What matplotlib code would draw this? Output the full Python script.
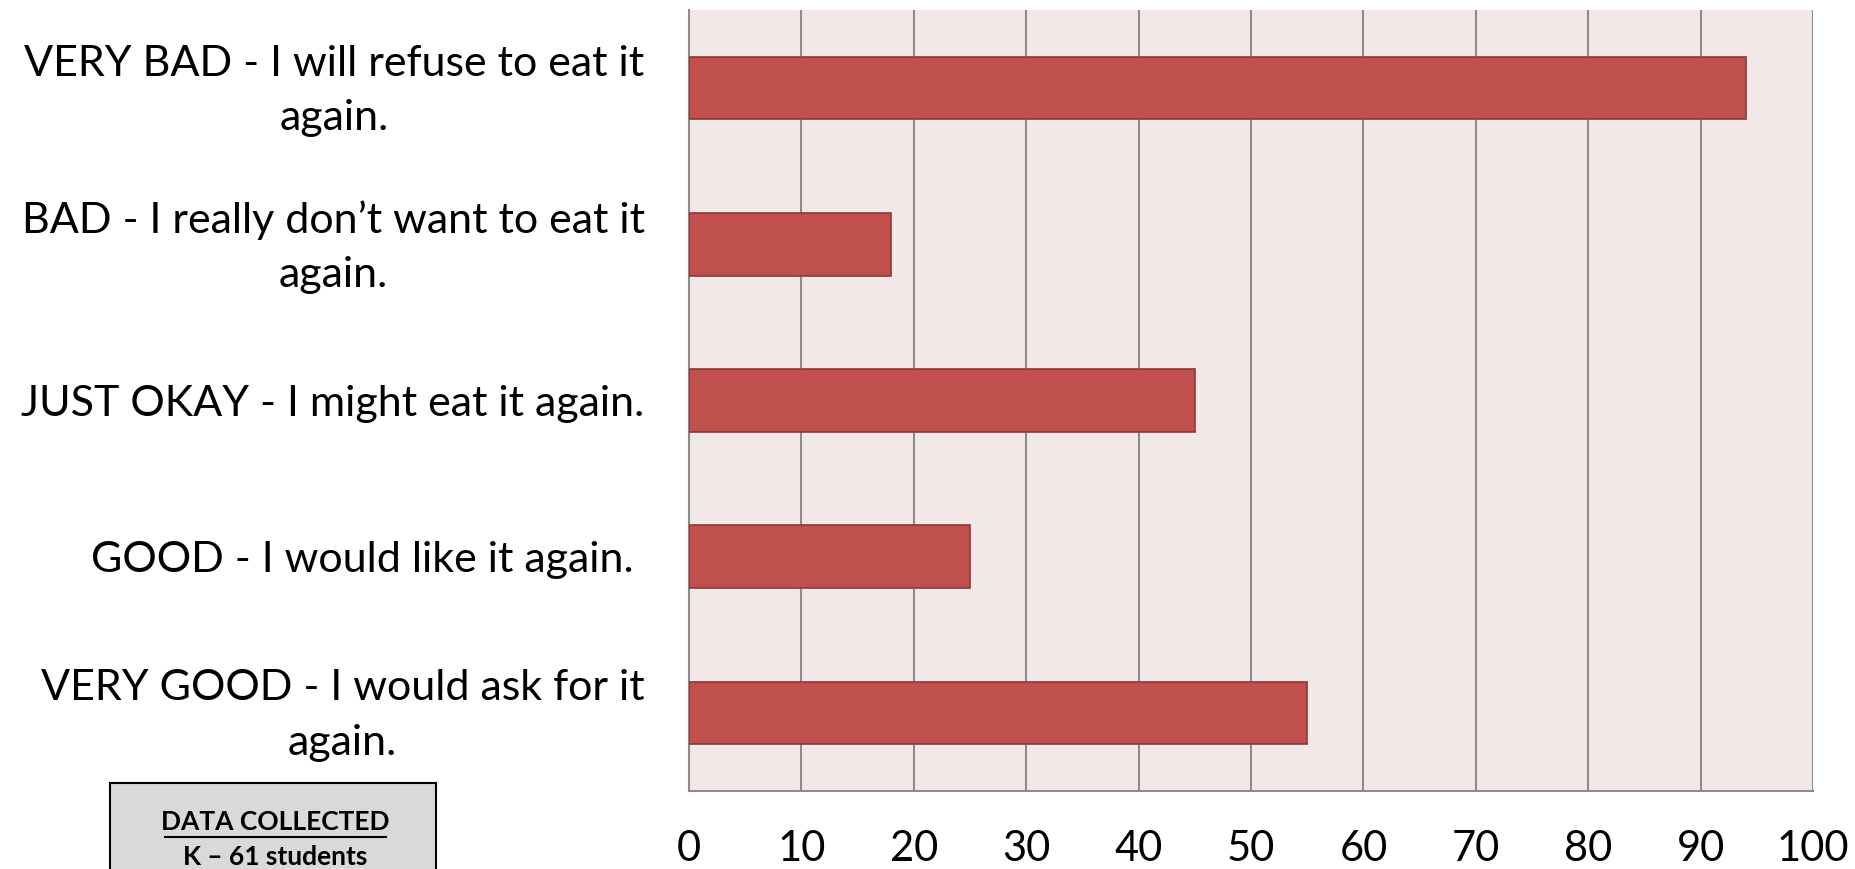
import matplotlib.pyplot as plt
import matplotlib.transforms as mtransforms

# Respostas (de cima para baixo) e número de alunos
categorias = [
    "VERY BAD - I will refuse to eat it\nagain.",
    "BAD - I really don\u2019t want to eat it\nagain.",
    "JUST OKAY - I might eat it again.",
    "GOOD - I would like it again. ",
    "VERY GOOD - I would ask for it\nagain.",
]
valores = [94, 18, 45, 25, 55]
ticks_x = [0, 10, 20, 30, 40, 50, 60, 70, 80, 90, 100]

plt.rcParams['font.family'] = ['Lato', 'DejaVu Sans']

fig = plt.figure(figsize=(18.56, 8.69), dpi=100)
ax = fig.add_axes([689 / 1856, 1 - 791 / 869, 1124 / 1856, 781 / 869])
ax.set_facecolor('#F2E8E8')

y = list(range(len(categorias)))
ax.barh(y, valores, height=0.4, color='#C0504D', edgecolor='#8C3836', linewidth=1.2, zorder=3)

ax.set_xlim(0, 100)
ax.set_ylim(-0.5, len(categorias) - 0.5)
ax.invert_yaxis()
ax.set_xticks(ticks_x)
ax.set_xticklabels([str(t) for t in ticks_x], fontsize=30)
ax.set_yticks(y)
ax.set_yticklabels(categorias, fontsize=31)

ax.tick_params(axis='both', length=0)
ax.tick_params(axis='x', pad=28)
ax.tick_params(axis='y', pad=32)

# rótulos de duas linhas: centralizados e um pouco mais altos
desloc = mtransforms.ScaledTranslation(0, 9 / 100, fig.dpi_scale_trans)
for lab in ax.get_yticklabels():
    lab.set_multialignment('center')
    lab.set_linespacing(1.53)
    if '\n' in lab.get_text():
        lab.set_transform(lab.get_transform() + desloc)

ax.grid(axis='x', color='#8C8C8C', linewidth=1.5, zorder=1)
ax.grid(axis='y', visible=False)
ax.spines['top'].set_visible(False)
ax.spines['right'].set_visible(False)
ax.spines['left'].set_color('#8C8C8C')
ax.spines['bottom'].set_color('#8C8C8C')
ax.spines['left'].set_linewidth(1.5)
ax.spines['bottom'].set_linewidth(1.5)

# Caixa de informação
fig.patches.append(plt.Rectangle((110 / 1856, -0.05), 326 / 1856, 0.05 + 86 / 869,
                                 transform=fig.transFigure, facecolor='#D9D9D9',
                                 edgecolor='black', linewidth=1.5))
fig.text(275 / 1856, 1 - 822 / 869, "DATA COLLECTED", ha='center', va='center',
         fontsize=19, fontweight='bold')
fig.add_artist(plt.Line2D([165 / 1856, 386 / 1856], [1 - 837 / 869, 1 - 837 / 869],
                          color='black', linewidth=1.5, transform=fig.transFigure))
fig.text(275 / 1856, 1 - 857 / 869, "K \u2013 61 students", ha='center', va='center',
         fontsize=19, fontweight='bold')

plt.savefig('out.png')
